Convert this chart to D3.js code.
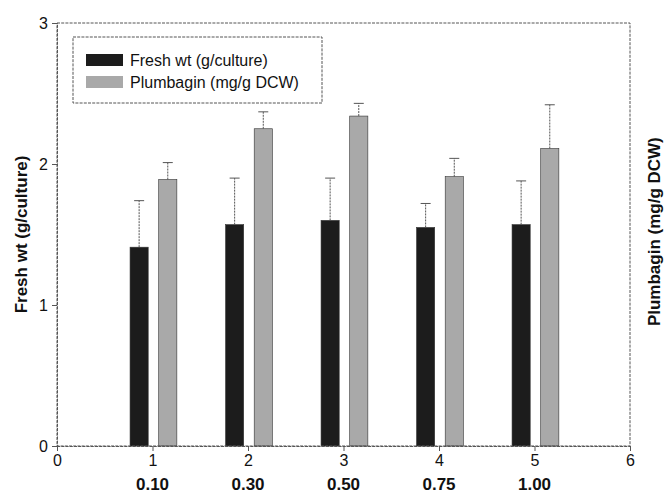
<!DOCTYPE html>
<html>
<head>
<meta charset="utf-8">
<script src="https://cdn.jsdelivr.net/npm/d3@7"></script>
<style>
  body { margin: 0; background: #fff; }
  text { font-family: "Liberation Sans", Arial, sans-serif; fill: #111; }
</style>
</head>
<body>
<div id="chart"></div>
<script>
// values
var groups = [1, 2, 3, 4, 5];
var concLabels = ["0.10", "0.30", "0.50", "0.75", "1.00"];
var freshWt = [1.41, 1.57, 1.60, 1.55, 1.57];
var freshWtErr = [0.33, 0.33, 0.30, 0.17, 0.31];
var plumbagin = [1.89, 2.25, 2.34, 1.91, 2.11];
var plumbaginErr = [0.12, 0.12, 0.09, 0.13, 0.31];
var xTicks = [0, 1, 2, 3, 4, 5, 6];
var yTicks = [0, 1, 2, 3];
var seriesNames = ["Fresh wt (g/culture)", "Plumbagin (mg/g DCW)"];

var W = 667, H = 495;
var margin = { top: 23, right: 37, bottom: 49, left: 57 },
    width = W - margin.left - margin.right,
    height = H - margin.top - margin.bottom;

var svg = d3.select("#chart").append("svg")
    .attr("width", W)
    .attr("height", H);

var g = svg.append("g")
    .attr("transform", "translate(" + margin.left + "," + margin.top + ")");

var x = d3.scaleLinear().domain([0, 6]).range([0, width]);
var y = d3.scaleLinear().domain([0, 3]).range([height, 0]);

var lineCol = "#555", dash = "3,1.2";
var barW = x(0.19) - x(0);

//series: offset from tick, fill colour
var series = [
    { vals: freshWt, err: freshWtErr, off: -0.14, fill: "#1c1c1c" },
    { vals: plumbagin, err: plumbaginErr, off: 0.16, fill: "#a9a9a9" }
];

// bars + error bars
series.forEach(function (s) {
    var grp = g.append("g");
    grp.selectAll("rect")
        .data(groups)
        .enter().append("rect")
        .attr("x", function (d) { return x(d + s.off) - barW / 2; })
        .attr("width", barW)
        .attr("y", function (d, i) { return y(s.vals[i]); })
        .attr("height", function (d, i) { return y(0) - y(s.vals[i]); })
        .attr("fill", s.fill)
        .attr("stroke", "#333")
        .attr("stroke-width", 0.6);

    grp.selectAll("line.err")
        .data(groups)
        .enter().append("line")
        .attr("class", "err")
        .attr("x1", function (d) { return x(d + s.off); })
        .attr("x2", function (d) { return x(d + s.off); })
        .attr("y1", function (d, i) { return y(s.vals[i]); })
        .attr("y2", function (d, i) { return y(s.vals[i] + s.err[i]); })
        .attr("stroke", lineCol)
        .attr("stroke-dasharray", "2,1");

    grp.selectAll("line.cap")
        .data(groups)
        .enter().append("line")
        .attr("class", "cap")
        .attr("x1", function (d) { return x(d + s.off) - 5; })
        .attr("x2", function (d) { return x(d + s.off) + 5; })
        .attr("y1", function (d, i) { return y(s.vals[i] + s.err[i]); })
        .attr("y2", function (d, i) { return y(s.vals[i] + s.err[i]); })
        .attr("stroke", lineCol);
});

// frame
g.append("rect")
    .attr("width", width)
    .attr("height", height)
    .attr("fill", "none")
    .attr("stroke", lineCol)
    .attr("stroke-dasharray", dash);

// axes
var xAxis = g.append("g")
    .attr("transform", "translate(0," + height + ")")
    .call(d3.axisBottom(x).tickValues(xTicks).tickFormat(d3.format("d")).tickSize(5).tickPadding(4));
var yAxis = g.append("g")
    .call(d3.axisLeft(y).tickValues(yTicks).tickFormat(d3.format("d")).tickSize(5).tickPadding(4));

[xAxis, yAxis].forEach(function (a) {
    a.select(".domain").attr("stroke", lineCol).attr("stroke-dasharray", dash);
    a.selectAll(".tick line").attr("stroke", lineCol);
    a.selectAll("text")
        .style("font-family", "'Liberation Sans', Arial, sans-serif")
        .style("font-size", "16px")
        .attr("fill", "#111");
});

// concentration labels
g.selectAll("text.conc")
    .data(groups)
    .enter().append("text")
    .attr("class", "conc")
    .attr("x", function (d) { return x(d); })
    .attr("y", height + 44)
    .attr("text-anchor", "middle")
    .style("font-size", "17px")
    .style("font-weight", "bold")
    .text(function (d, i) { return concLabels[i]; });

// axis titles
svg.append("text")
    .attr("transform", "translate(27," + (margin.top + y(1.5)) + ") rotate(-90)")
    .attr("text-anchor", "middle")
    .style("font-size", "17px")
    .style("font-weight", "bold")
    .text(seriesNames[0]);

svg.append("text")
    .attr("transform", "translate(660," + (margin.top + y(1.52)) + ") rotate(-90)")
    .attr("text-anchor", "middle")
    .style("font-size", "17px")
    .style("font-weight", "bold")
    .text(seriesNames[1]);

// legend
var legend = svg.append("g").attr("transform", "translate(73,37)");
legend.append("rect")
    .attr("width", 249)
    .attr("height", 66)
    .attr("fill", "#fff")
    .attr("stroke", lineCol)
    .attr("stroke-dasharray", dash);

var items = legend.selectAll("g.item")
    .data(series)
    .enter().append("g")
    .attr("class", "item")
    .attr("transform", function (d, i) { return "translate(13," + (23 + i * 22) + ")"; });
items.append("rect")
    .attr("y", -6)
    .attr("width", 37)
    .attr("height", 12)
    .attr("fill", function (d) { return d.fill; });
items.append("text")
    .attr("x", 44)
    .attr("dy", "0.35em")
    .style("font-size", "16px")
    .text(function (d, i) { return seriesNames[i]; });
</script>
</body>
</html>
